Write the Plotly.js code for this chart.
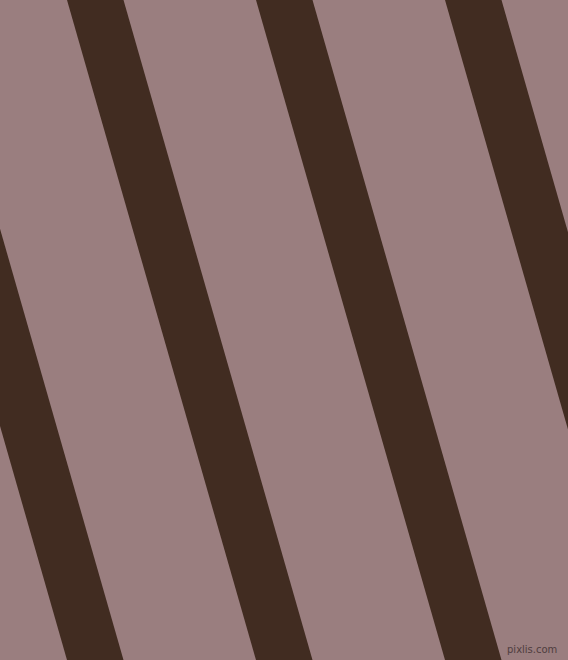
<!DOCTYPE html>
<html>
<head>
<meta charset="utf-8">
<script src="https://cdn.plot.ly/plotly-3.0.1.min.js"></script>
<style>
  html, body { margin: 0; padding: 0; background: #9a7e7f; }
  #chart { width: 568px; height: 660px; }
</style>
</head>
<body>
<div id="chart"></div>
<script>
// stripe edges (x of left edge at top and bottom row)
const stripeTopLeft = [-122, 67, 256, 445];
const stripeBottomLeft = [67, 256, 445, 634];
const stripeWidth = [56.5, 56.5, 56.5, 56.5];
const imgW = 568, imgH = 660;

const traces = stripeTopLeft.map((x0, i) => {
    const x1 = stripeBottomLeft[i];
    const w = stripeWidth[i];
    return {
        x: [x0, x0 + w, x1 + w, x1, x0],
        y: [0, 0, imgH, imgH, 0],
        type: 'scatter', mode: 'lines', fill: 'toself',
        fillcolor: '#412c21', line: { width: 0, color: '#412c21' },
        hoverinfo: 'skip', showlegend: false
    };
});

Plotly.newPlot('chart', traces, {
    width: imgW, height: imgH,
    margin: { t: 0, b: 0, l: 0, r: 0 },
    paper_bgcolor: '#9a7e7f', plot_bgcolor: '#9a7e7f',
    xaxis: { range: [0, imgW], visible: false, fixedrange: true },
    yaxis: { range: [imgH, 0], visible: false, fixedrange: true },
    annotations: [{
        text: 'pixlis.com', xref: 'paper', yref: 'paper', x: 0.984, y: 0.005,
        xanchor: 'right', yanchor: 'bottom', showarrow: false,
        font: { family: 'DejaVu Sans', size: 10, color: '#4f3d3e' }
    }]
}, { displayModeBar: false, staticPlot: true });
</script>
</body>
</html>
